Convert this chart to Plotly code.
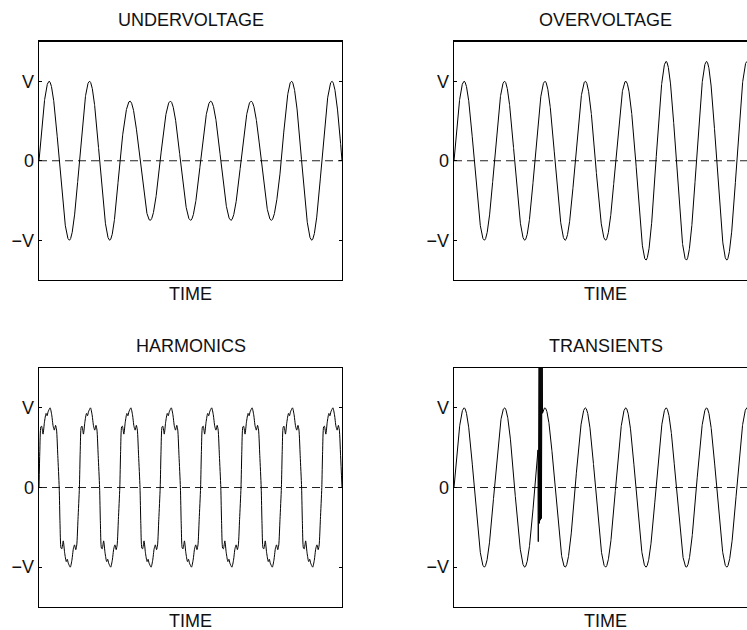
import numpy as np
import plotly.graph_objects as go

# ---------------- data ----------------
panel_titles = ["UNDERVOLTAGE", "OVERVOLTAGE", "HARMONICS", "TRANSIENTS"]
x_title = "TIME"
tick_vals = [-1, 0, 1]
tick_text = ["\u2212V", "0", "V"]
n_cycles = 7.5

# amplitude of each half-cycle (15 half-cycles), in units of V
under_half_amp = [1, 1, 1, 1, 0.75, 0.75, 0.75, 0.75, 0.75, 0.75, 0.75, 0.75, 1, 1, 1]
over_half_amp = [1, 1, 1, 1, 1, 1, 1, 1, 1, 1.25, 1.25, 1.25, 1.25, 1.25, 1.25]
trans_half_amp = [1] * 15

# harmonic-distorted wave: one positive half-cycle profile (fraction of half-cycle, value)
harm_frac = [0, 0.04, 0.09, 0.13, 0.20, 0.27, 0.35, 0.40, 0.45, 0.55, 0.63, 0.70, 0.76, 0.82, 0.87, 0.93, 1.0]
harm_val = [0, 0.45, 0.76, 0.77, 0.67, 0.82, 0.93, 0.90, 0.95, 1.0, 0.91, 0.77, 0.72, 0.78, 0.72, 0.40, 0]

# transient burst (time in cycles, value in V)
trans_start, trans_end = 2.080, 2.190
trans_t = [2.086, 2.110, 2.116, 2.122, 2.128, 2.134, 2.140, 2.146, 2.152, 2.158, 2.164, 2.170, 2.176, 2.182]
trans_v = [-0.68, 2.5, -0.45, 2.5, -0.43, 2.5, -0.41, 2.5, -0.40, 2.5, -0.39, 2.5, -0.38, 2.5]

# ---------------- build series ----------------
def sine_wave(half_amp, n=3000):
    t = np.linspace(0, n_cycles, n)
    idx = np.clip(np.floor(2 * t).astype(int), 0, len(half_amp) - 1)
    amp = np.array(half_amp)[idx]
    return t, amp * np.sin(2 * np.pi * t)

def harmonic_wave():
    xs, ys = [], []
    nh = int(round(n_cycles * 2))
    for k in range(nh):
        sgn = 1 if k % 2 == 0 else -1
        for j, (f, v) in enumerate(zip(harm_frac, harm_val)):
            if k > 0 and j == 0:
                continue
            xs.append(0.5 * k + 0.5 * f)
            ys.append(sgn * v)
    return xs, ys

def transient_wave():
    t, y = sine_wave(trans_half_amp)
    m1 = t <= trans_start
    m2 = t >= trans_end
    xs = list(t[m1]) + trans_t + list(t[m2])
    ys = list(y[m1]) + trans_v + list(y[m2])
    return xs, ys

series = [sine_wave(under_half_amp), sine_wave(over_half_amp), harmonic_wave(), transient_wave()]

# ---------------- layout ----------------
W, H = 747, 630
PW = 342 - 39  # panel width in px
left_dom = [39 / W, 342 / W]
right_dom = [454 / W, 1.0]
right_visible = (W - 454) / PW  # fraction of panel visible in the window
top_dom = [1 - 280 / H, 1 - 41.5 / H]
bot_dom = [1 - 607 / H, 1 - 368 / H]

doms = [(left_dom, top_dom), (right_dom, top_dom), (left_dom, bot_dom), (right_dom, bot_dom)]

fig = go.Figure()
font_family = "Liberation Sans, Arial, Helvetica, sans-serif"
annotations = []
for i, ((xd, yd), (xs, ys)) in enumerate(zip(doms, series)):
    n = "" if i == 0 else str(i + 1)
    xa, ya = "x" + n, "y" + n
    is_right = i % 2 == 1
    xmax = n_cycles * right_visible if is_right else n_cycles
    fig.add_trace(go.Scatter(x=[0, n_cycles], y=[0, 0], mode="lines",
                             line=dict(color="#222", width=1, dash="8px,5px"),
                             xaxis=xa, yaxis=ya, showlegend=False, hoverinfo="skip"))
    fig.add_trace(go.Scatter(x=xs, y=ys, mode="lines",
                             line=dict(color="black", width=1,
                                       shape="spline" if i == 2 else "linear",
                                       smoothing=0.6 if i == 2 else None),
                             xaxis=xa, yaxis=ya, showlegend=False, hoverinfo="skip"))
    fig.layout["xaxis" + n] = dict(domain=xd, range=[0, xmax], anchor=ya, automargin=False,
                                   showgrid=False, zeroline=False, showticklabels=False,
                                   ticks="", showline=True, linecolor="black", linewidth=1.3,
                                   mirror=True, fixedrange=True)
    fig.layout["yaxis" + n] = dict(domain=yd, range=[-1.5, 1.5], anchor=xa, automargin=False,
                                   showgrid=False, zeroline=False,
                                   tickvals=tick_vals, ticktext=tick_text,
                                   ticks="inside", ticklen=3, tickcolor="black",
                                   showline=True, linecolor="black", linewidth=1.3,
                                   mirror=False if is_right else "ticks",
                                   tickfont=dict(size=18, color="#111", family=font_family),
                                   fixedrange=True)
    cx = xd[0] + PW / W / 2
    annotations.append(dict(text=panel_titles[i], x=cx, y=yd[1] + 22 / H,
                            xref="paper", yref="paper", xanchor="center", yanchor="middle",
                            showarrow=False, font=dict(size=18, color="#111", family=font_family)))
    annotations.append(dict(text=x_title, x=cx, y=yd[0] - 14 / H,
                            xref="paper", yref="paper", xanchor="center", yanchor="middle",
                            showarrow=False, font=dict(size=18, color="#111", family=font_family)))

fig.update_layout(width=W, height=H, margin=dict(l=0, r=0, t=0, b=0, autoexpand=False),
                  paper_bgcolor="white", plot_bgcolor="white",
                  annotations=annotations, showlegend=False)

fig.write_html("out.html", config={"displayModeBar": False, "staticPlot": True},
               post_script="document.body.style.margin='0';document.body.style.overflow='hidden';")
